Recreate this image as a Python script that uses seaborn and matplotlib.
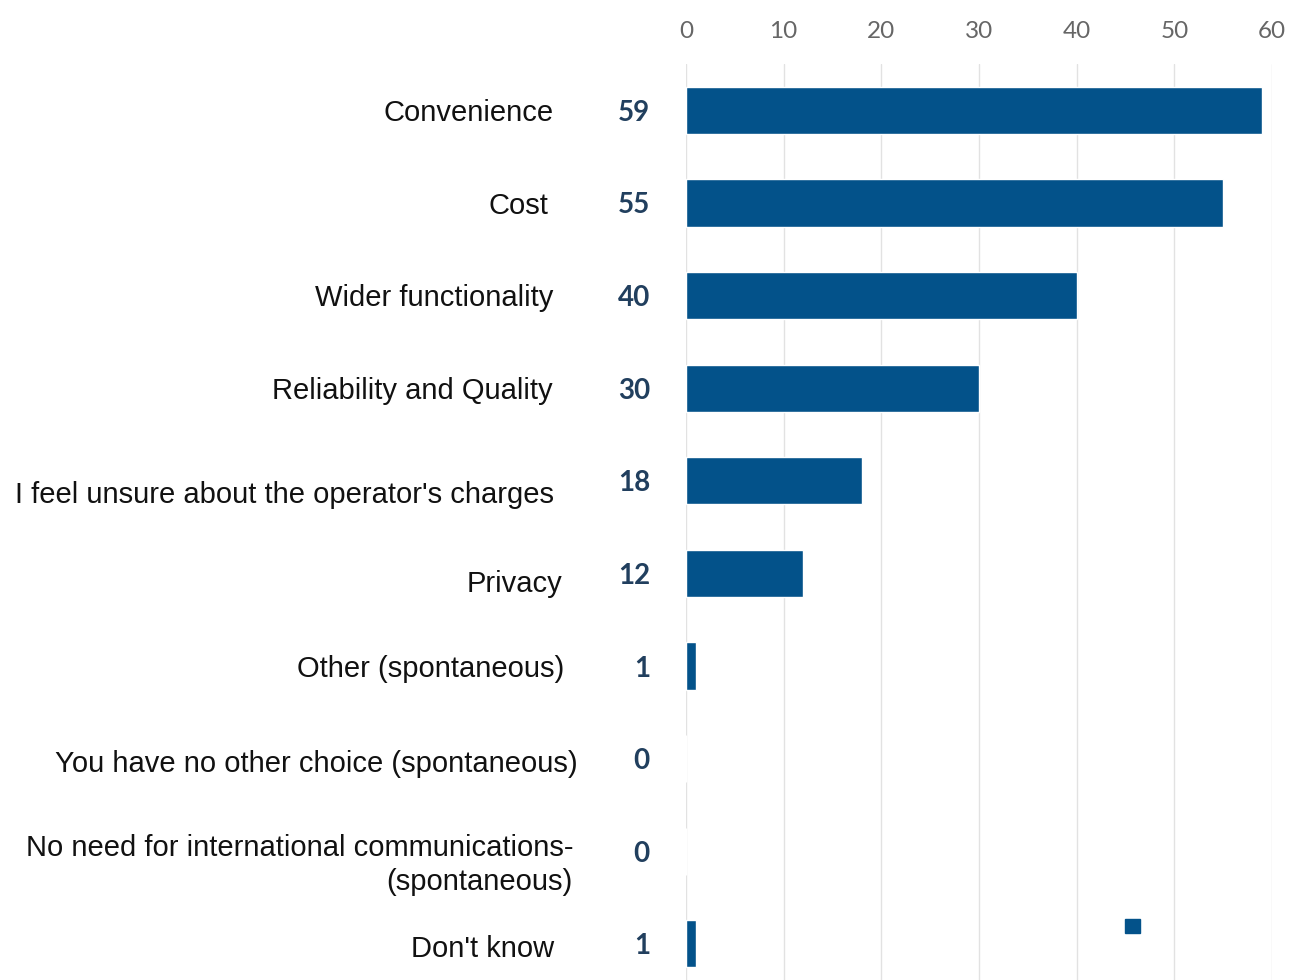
import matplotlib
matplotlib.use("Agg")
import matplotlib.pyplot as plt
import seaborn as sns
import pandas as pd
from matplotlib.patches import Patch

# Survey responses: reasons given, in percent
reasons = [
    "Convenience",
    "Cost",
    "Wider functionality",
    "Reliability and Quality",
    "I feel unsure about the operator's charges",
    "Privacy",
    "Other (spontaneous)",
    "You have no other choice (spontaneous)",
    "No need for international communications-\n(spontaneous)",
    "Don't know",
]
shares = [59, 55, 40, 30, 18, 12, 1, 0, 0, 1]
x_ticks = [0, 10, 20, 30, 40, 50, 60]

# hand-placed label nudges (pixels, right / down) for the category text
label_dx = [0, -6, -1, -1, 0, 8, 10, 24, 19, 0]
label_dy = [3, 3, 2, 3, 14, 11, 3, 5, 14, 5]

bar_color = "#03528a"
value_color = "#213f5e"

df = pd.DataFrame({"reason": reasons, "share": shares})

sns.set_theme(style="white")
plt.rcParams["font.family"] = ["Liberation Sans", "DejaVu Sans"]

fig = plt.figure(figsize=(12.9, 9.8), dpi=100)
ax = fig.add_axes([686 / 1290, 0.0, (1272 - 686) / 1290, 1 - 64 / 980])

sns.barplot(data=df, x="share", y="reason", orient="h", color=bar_color,
            width=0.51, saturation=1, ax=ax, zorder=3)

ax.set_xlim(0, 60)
ax.set_ylim(9.39, -0.5)
ax.set_xticks(x_ticks)
ax.xaxis.tick_top()
ax.tick_params(axis="x", length=0, pad=16, labelsize=17.5, labelcolor="#666666")
for lab in ax.get_xticklabels():
    lab.set_family(["Lato", "DejaVu Sans"])
ax.tick_params(axis="y", length=0, labelleft=False)
ax.set_xlabel("")
ax.set_ylabel("")
for sp in ax.spines.values():
    sp.set_visible(False)

ax.grid(axis="x", color="#e2e2e2", linewidth=1.0, zorder=0)
ax.grid(axis="y", visible=False)

# category names, right-aligned left of the value column
for i, name in enumerate(reasons):
    ax.annotate(name, xy=(0, i), xytext=(-132 + label_dx[i], -label_dy[i]),
                textcoords="offset pixels", ha="right", va="center",
                multialignment="right", linespacing=1.28,
                fontsize=21, color="#111111", annotation_clip=False)

# value labels to the left of the zero line
for i, v in enumerate(shares):
    ax.annotate(f"{v}", xy=(0, i), xytext=(-36, 0), textcoords="offset pixels",
                ha="right", va="center_baseline", fontsize=20, fontweight="bold",
                color=value_color, family=["Lato", "DejaVu Sans"])

ax.legend(handles=[Patch(facecolor=bar_color, edgecolor=bar_color, label=" ")],
          loc="center", bbox_to_anchor=(0.78, 0.057), frameon=False,
          handlelength=0.75, handleheight=0.75, fontsize=14)

fig.savefig("out.png", dpi=100, facecolor="white")
